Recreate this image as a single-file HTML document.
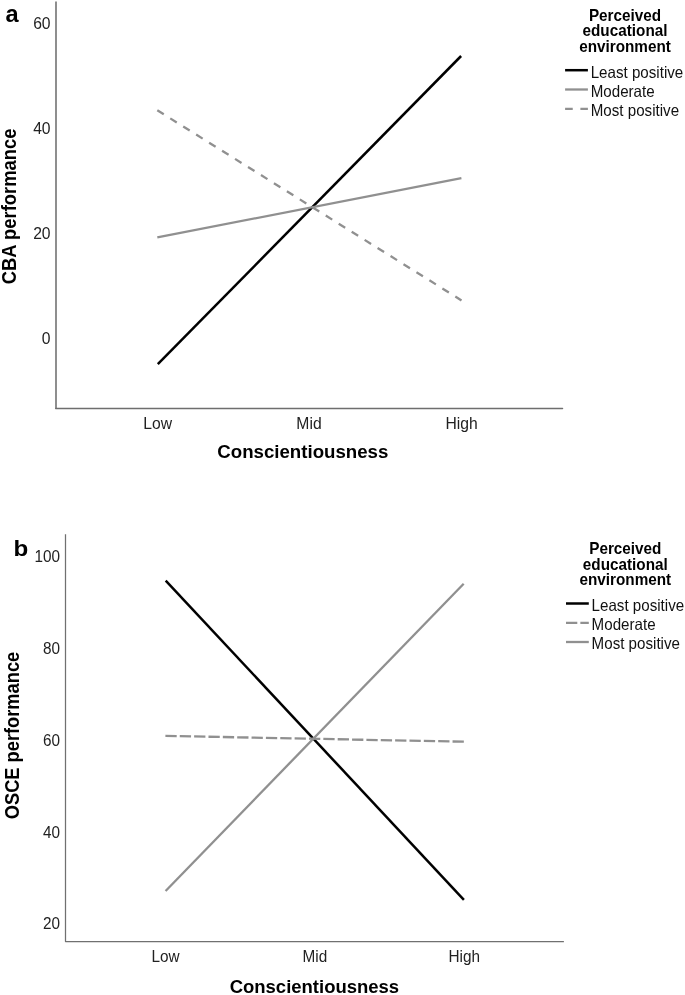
<!DOCTYPE html>
<html>
<head>
<meta charset="utf-8">
<title>Figure</title>
<style>
html,body{margin:0;padding:0;background:#fff;}
body{width:685px;height:995px;overflow:hidden;}
svg{display:block;will-change:transform;filter:grayscale(1);font-family:"Liberation Sans",sans-serif;}
.tick{font-size:15.33px;fill:#222;}
.ta{font-size:15.7px;}
.ttl{font-size:18.5px;font-weight:bold;fill:#000;}
.tta{font-size:18.67px;}
.lt{font-size:15.3px;font-weight:bold;fill:#000;}
.le{font-size:15.15px;fill:#111;}
.pl{font-size:24px;font-weight:bold;fill:#000;}
</style>
</head>
<body>
<svg width="685" height="995" viewBox="0 0 685 995">
<rect width="685" height="995" fill="#fff"/>

<!-- ===== Panel a ===== -->
<text class="pl" transform="translate(5.6 21.6)" style="font-size:23.6px">a</text>
<path d="M56 1.4 V408" fill="none" stroke="#525252" stroke-width="1.3"/><path d="M55.6 408.5 H562.6" fill="none" stroke="#6e6e6e" stroke-width="1.3" stroke-linecap="round"/>
<text class="tick ta" transform="translate(50.6 28.9)" text-anchor="end">60</text>
<text class="tick ta" transform="translate(50.6 134.1)" text-anchor="end">40</text>
<text class="tick ta" transform="translate(50.6 239)" text-anchor="end">20</text>
<text class="tick ta" transform="translate(50.6 344)" text-anchor="end">0</text>
<text class="tick ta" transform="translate(157.6 428.8)" text-anchor="middle">Low</text>
<text class="tick ta" transform="translate(309 428.8)" text-anchor="middle">Mid</text>
<text class="tick ta" transform="translate(461.5 428.8)" text-anchor="middle">High</text>
<text class="ttl tta" transform="translate(302.8 457.8) scale(1 1.03)" text-anchor="middle">Conscientiousness</text>
<text class="ttl tta" transform="translate(15.7 206.4) rotate(-90) scale(0.985 1.08)" text-anchor="middle">CBA performance</text>
<line x1="157.8" y1="364.2" x2="461.1" y2="56" stroke="#000" stroke-width="2.5"/>
<line x1="157.3" y1="237.4" x2="461.4" y2="178.2" stroke="#909090" stroke-width="2.3"/>
<line x1="157.3" y1="110.3" x2="461.5" y2="300.4" stroke="#909090" stroke-width="2.3" stroke-dasharray="7.64 7.64"/>
<!-- legend a -->
<text class="lt" transform="translate(625 21.0) scale(1 1.04)" text-anchor="middle">Perceived</text>
<text class="lt" transform="translate(625 36.2) scale(1 1.04)" text-anchor="middle">educational</text>
<text class="lt" transform="translate(625 51.6) scale(1 1.04)" text-anchor="middle">environment</text>
<line x1="565.1" y1="70.2" x2="587.9" y2="70.2" stroke="#000" stroke-width="2.5"/>
<line x1="565.1" y1="89.5" x2="587.9" y2="89.5" stroke="#909090" stroke-width="2.3"/>
<line x1="565.1" y1="108.8" x2="587.9" y2="108.8" stroke="#909090" stroke-width="2.3" stroke-dasharray="7.64 7.64"/>
<text class="le" transform="translate(590.7 77.8) scale(1 1.075)">Least positive</text>
<text class="le" transform="translate(590.7 96.9) scale(1 1.075)">Moderate</text>
<text class="le" transform="translate(590.7 116.1) scale(1 1.075)">Most positive</text>

<!-- ===== Panel b ===== -->
<text class="pl" transform="translate(13.5 556.3) scale(1.06 1)" style="font-size:22.8px">b</text>
<path d="M65.5 534.3 V941.5 H563.9" fill="none" stroke="#707070" stroke-width="1.25" stroke-linejoin="round"/>
<text class="tick" transform="translate(60 562) scale(1 1.12)" text-anchor="end">100</text>
<text class="tick" transform="translate(60 653.7) scale(1 1.12)" text-anchor="end">80</text>
<text class="tick" transform="translate(60 745.6) scale(1 1.12)" text-anchor="end">60</text>
<text class="tick" transform="translate(60 837.6) scale(1 1.12)" text-anchor="end">40</text>
<text class="tick" transform="translate(60 928.9) scale(1 1.12)" text-anchor="end">20</text>
<text class="tick" transform="translate(165.5 962.3) scale(1 1.06)" text-anchor="middle">Low</text>
<text class="tick" transform="translate(314.9 962.3) scale(1 1.06)" text-anchor="middle">Mid</text>
<text class="tick" transform="translate(464.3 962.3) scale(1 1.06)" text-anchor="middle">High</text>
<text class="ttl" transform="translate(314.4 993.0) scale(1 1.04)" text-anchor="middle">Conscientiousness</text>
<text class="ttl" transform="translate(18.9 735.5) rotate(-90) scale(0.988 1.09)" text-anchor="middle">OSCE performance</text>
<line x1="165.7" y1="580.6" x2="463.9" y2="899.8" stroke="#000" stroke-width="2.5"/>
<line x1="165.4" y1="735.9" x2="463.9" y2="741.7" stroke="#909090" stroke-width="2.3" stroke-dasharray="11.3 3.06"/>
<line x1="165.6" y1="891" x2="463.7" y2="583.7" stroke="#909090" stroke-width="2.3"/>
<!-- legend b -->
<text class="lt" transform="translate(625.3 554.2) scale(1 1.04)" text-anchor="middle">Perceived</text>
<text class="lt" transform="translate(625.3 569.5) scale(1 1.04)" text-anchor="middle">educational</text>
<text class="lt" transform="translate(625.3 584.8) scale(1 1.04)" text-anchor="middle">environment</text>
<line x1="566" y1="603.5" x2="588.8" y2="603.5" stroke="#000" stroke-width="2.5"/>
<line x1="566" y1="622.9" x2="588.8" y2="622.9" stroke="#909090" stroke-width="2.3" stroke-dasharray="11.3 3.06"/>
<line x1="566" y1="642" x2="588.8" y2="642" stroke="#909090" stroke-width="2.3"/>
<text class="le" transform="translate(591.6 611.1) scale(1 1.075)">Least positive</text>
<text class="le" transform="translate(591.6 630.1) scale(1 1.075)">Moderate</text>
<text class="le" transform="translate(591.6 649.1) scale(1 1.075)">Most positive</text>
</svg>
</body>
</html>
